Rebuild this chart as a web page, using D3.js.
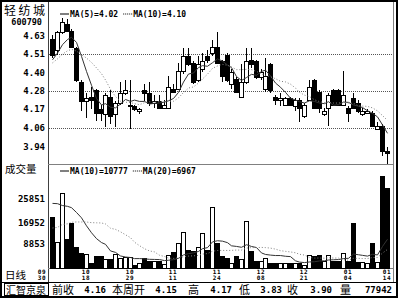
<!DOCTYPE html>
<html>
<head>
<meta charset="utf-8">
<script src="https://cdn.jsdelivr.net/npm/d3@7"></script>
<style>
  body { margin: 0; background: #fff; }
  svg { display: block; }
</style>
</head>
<body>
<div id="viz"></div>
<script>
const width = 400;
const height = 299;

// Daily bars, 600790 轻纺城, 2004-09-30 .. 2005-01-14
const dates = ['09/30',
  '10/08','10/11','10/12','10/13','10/14','10/15','10/18','10/19','10/20','10/21','10/22',
  '10/25','10/26','10/27','10/28','10/29',
  '11/01','11/02','11/03','11/04','11/05','11/08','11/09','11/10','11/11','11/12',
  '11/15','11/16','11/17','11/18','11/19','11/22','11/23','11/24','11/25','11/26','11/29','11/30',
  '12/02','12/03','12/06','12/07','12/08','12/09','12/10','12/13','12/14','12/15','12/16','12/17',
  '12/20','12/21','12/22','12/23','12/24','12/27','12/28','12/29','12/30','12/31',
  '01/04','01/05','01/06','01/07','01/10','01/11','01/12','01/13','01/14'];
const opens  = [4.61,4.54,4.65,4.70,4.66,4.55,4.34,4.22,4.25,4.29,4.17,4.14,4.25,4.14,4.21,4.27,4.19,4.19,4.16,4.29,
                4.27,4.21,4.22,4.18,4.18,4.30,4.30,4.41,4.50,4.46,4.35,4.42,4.50,4.52,4.56,4.47,4.51,4.33,4.36,4.25,
                4.34,4.48,4.47,4.37,4.30,4.45,4.25,4.23,4.20,4.24,4.19,4.23,4.13,4.23,4.35,4.28,4.14,4.18,4.29,4.29,
                4.20,4.18,4.24,4.21,4.14,4.15,4.15,4.05,4.07,3.91];
const highs  = [4.63,4.66,4.74,4.73,4.67,4.56,4.35,4.27,4.31,4.30,4.20,4.27,4.29,4.22,4.34,4.35,4.35,4.20,4.18,4.33,
                4.34,4.26,4.26,4.23,4.38,4.33,4.46,4.55,4.55,4.47,4.50,4.52,4.54,4.60,4.65,4.48,4.52,4.42,4.37,4.45,
                4.55,4.55,4.48,4.42,4.49,4.46,4.26,4.27,4.25,4.25,4.24,4.24,4.21,4.35,4.36,4.29,4.18,4.27,4.30,4.30,
                4.41,4.19,4.27,4.23,4.18,4.17,4.16,4.09,4.08,3.94];
const lows   = [4.49,4.51,4.64,4.65,4.55,4.34,4.16,4.12,4.17,4.10,4.10,4.06,4.08,4.06,4.20,4.26,4.05,4.16,4.14,4.22,
                4.19,4.18,4.17,4.17,4.17,4.27,4.29,4.39,4.44,4.33,4.34,4.40,4.46,4.50,4.45,4.34,4.34,4.30,4.27,4.24,
                4.33,4.43,4.36,4.35,4.28,4.27,4.20,4.19,4.19,4.19,4.16,4.09,4.12,4.22,4.17,4.15,4.13,4.07,4.19,4.19,
                4.19,4.09,4.17,4.15,4.13,4.14,4.06,4.04,3.88,3.83];
const closes = [4.51,4.65,4.71,4.66,4.56,4.35,4.22,4.24,4.23,4.15,4.15,4.26,4.13,4.21,4.27,4.29,4.20,4.17,4.17,4.27,
                4.21,4.22,4.18,4.20,4.31,4.28,4.41,4.50,4.45,4.34,4.45,4.47,4.48,4.56,4.46,4.38,4.35,4.40,4.28,4.34,
                4.47,4.45,4.37,4.40,4.38,4.29,4.23,4.24,4.24,4.20,4.23,4.18,4.20,4.31,4.18,4.18,4.16,4.26,4.20,4.20,
                4.26,4.15,4.18,4.16,4.16,4.16,4.07,4.07,3.91,3.90];
const volumes = [19200,9850,28000,10740,17000,7990,5740,5250,1750,4500,4500,3250,3250,5250,3620,4000,4000,1120,1750,3620,
                 2740,2740,2740,1500,4870,6120,9240,13600,6740,6490,8000,13000,6740,23000,9240,4500,3620,1750,4500,3250,
                 17600,6490,2740,2740,3620,2000,2000,1750,1750,2000,1750,1750,1000,5000,4500,4870,2500,4870,2590,2740,
                 5500,2740,17000,2288,2300,2000,9374,2300,34468,29800];

// closes / volumes of the sessions just before the window (feed the moving averages)
const priorCloses = [4.40,4.42,4.45,4.47,4.46,4.44,4.45,4.50,4.49];
const priorVolumes = [5200,5800,6400,5100,6000,5900,5600,6300,5700,5800,
                      10850,35000,13740,22000,26000,25740,35250,27750,26500];

const priceTicks = [4.629, 4.514, 4.399, 4.285, 4.170, 4.055, 3.940];
const priceTickLabels = ['4.63','4.51','4.40','4.28','4.17','4.06','3.94'];
const volumeTicks = [8853, 16952, 25851];
const dateTicks = ['09/30','10/18','10/29','11/11','11/24','12/08','12/21','01/04','01/14'];

const infoLabels = ['前收','本周开','高','低','收','量'];
const infoValues = ['4.16','4.15','4.17','3.83','3.90','77942'];

const monoFont = '"DejaVu Sans Mono", monospace';
const cjkFont = '"Noto Sans CJK SC", sans-serif';

const svg = d3.select('#viz')
  .append('svg')
    .attr('width', width)
    .attr('height', height)
    .attr('viewBox', [0, 0, width, height]);

svg.append('rect').attr('width', width).attr('height', height).attr('fill', '#fff');

// Scales
const xScale = d3.scaleBand()
  .domain(dates)
  .range([49.575, 389.075]);
const cx = d => Math.round(xScale(d) + xScale.bandwidth() / 2);

const yPrice = d3.scaleLinear()
  .domain([3.8254, 4.7438])
  .range([165, 17]);
const yVol = d3.scaleLinear()
  .domain([0, 34468])
  .range([268, 176]);

// moving averages
const movingAvg = (values, prior, n) => {
  const all = prior.concat(values);
  return values.map((v, i) => d3.mean(all.slice(i + prior.length - n + 1, i + prior.length + 1)));
};
const ma5 = movingAvg(closes, priorCloses, 5);
const ma10 = movingAvg(closes, priorCloses, 10);
const vma10 = movingAvg(volumes, priorVolumes, 10);
const vma20 = movingAvg(volumes, priorVolumes, 20);

const bars = dates.map((d, i) => ({
  date: d, open: opens[i], high: highs[i], low: lows[i], close: closes[i], volume: volumes[i],
  down: closes[i] < opens[i]
}));

// Frame
const frame = svg.append('g').attr('class', 'frame').attr('fill', 'none');
frame.append('rect').attr('x', 1).attr('y', 1).attr('width', 396).attr('height', 296)
  .attr('stroke', '#000').attr('stroke-width', 2);
frame.append('line').attr('x1', 48.5).attr('x2', 48.5).attr('y1', 2).attr('y2', 282)
  .attr('stroke', '#404040');
frame.append('line').attr('x1', 393.5).attr('x2', 393.5).attr('y1', 2).attr('y2', 282)
  .attr('stroke', '#808080');
frame.append('line').attr('x1', 48).attr('x2', 394).attr('y1', 164.5).attr('y2', 164.5)
  .attr('stroke', '#808080');
frame.append('line').attr('x1', 48).attr('x2', 394).attr('y1', 268.5).attr('y2', 268.5)
  .attr('stroke', '#808080');
frame.append('line').attr('x1', 2).attr('x2', 396).attr('y1', 282.5).attr('y2', 282.5)
  .attr('stroke', '#000');

// Price gridlines (every other tick)
svg.append('g')
  .attr('class', 'grid')
  .selectAll('line')
  .data(priceTicks.filter((t, i) => i % 2 === 1))
  .join('line')
    .attr('x1', 49).attr('x2', 393)
    .attr('y1', d => Math.round(yPrice(d)) + 0.5)
    .attr('y2', d => Math.round(yPrice(d)) + 0.5)
    .attr('stroke', '#555')
    .attr('stroke-dasharray', '1,1');

// Left labels
svg.append('text').attr('x', 4).attr('y', 14.5)
  .attr('font-family', cjkFont).attr('font-size', 12).attr('letter-spacing', 2.5)
  .attr('fill', '#000').text('轻纺城');
svg.append('text').attr('x', 42).attr('y', 24.5).attr('text-anchor', 'end')
  .attr('font-family', monoFont).attr('font-size', 8.5).attr('font-weight', 700)
  .text('600790');

svg.append('g')
  .attr('class', 'price-ticks')
  .selectAll('text')
  .data(priceTicks)
  .join('text')
    .attr('x', 45)
    .attr('y', d => yPrice(d) + 3)
    .attr('text-anchor', 'end')
    .attr('font-family', monoFont).attr('font-size', 9).attr('font-weight', 700)
    .text((d, i) => priceTickLabels[i]);

svg.append('text').attr('x', 5).attr('y', 173)
  .attr('font-family', cjkFont).attr('font-size', 10.5).text('成交量');

svg.append('g')
  .attr('class', 'volume-ticks')
  .selectAll('text')
  .data(volumeTicks)
  .join('text')
    .attr('x', 45)
    .attr('y', d => yVol(d) + 3)
    .attr('text-anchor', 'end')
    .attr('font-family', monoFont).attr('font-size', 9).attr('font-weight', 700)
    .text(d => d);

svg.append('text').attr('x', 5).attr('y', 279)
  .attr('font-family', cjkFont).attr('font-size', 10.5).text('日线');

// Date labels (two lines: month / day)
const dateGroup = svg.append('g')
  .attr('class', 'date-ticks')
  .attr('font-family', monoFont).attr('font-size', 6).attr('font-weight', 700)
  .attr('letter-spacing', 0.6)
  .attr('text-anchor', 'middle');
dateGroup.selectAll('text.m')
  .data(dateTicks)
  .join('text').attr('class', 'm')
    .attr('x', (d, i) => cx(d) - (i === 0 ? 10 : 0))
    .attr('y', 273.5)
    .text(d => d.slice(0, 2));
dateGroup.selectAll('text.d')
  .data(dateTicks)
  .join('text').attr('class', 'd')
    .attr('x', (d, i) => cx(d) - (i === 0 ? 10 : 0))
    .attr('y', 279.5)
    .text(d => d.slice(3));

// MA legends
const legend = (y, items) => {
  const g = svg.append('g').attr('font-family', monoFont).attr('font-size', 8).attr('font-weight', 700);
  let xPos = 60;
  items.forEach((it, k) => {
    g.append('line')
      .attr('x1', xPos).attr('x2', xPos + 9)
      .attr('y1', y - 2.5).attr('y2', y - 2.5)
      .attr('stroke', '#000')
      .attr('stroke-dasharray', k === 0 ? null : '1,1');
    g.append('text').attr('x', xPos + 10).attr('y', y).text(it);
    xPos += 10 + it.length * 4.82 + 5;
  });
};
legend(16.5, [`MA(5)=${ma5[ma5.length - 1].toFixed(2)}`, `MA(10)=${ma10[ma10.length - 1].toFixed(2)}`]);
legend(173.5, [`MA(10)=${Math.round(vma10[vma10.length - 1])}`, `MA(20)=${Math.round(vma20[vma20.length - 1])}`]);

// Candles
const candles = svg.append('g').attr('class', 'candles');
candles.selectAll('line')
  .data(bars)
  .join('line')
    .attr('x1', d => cx(d.date) + 0.5).attr('x2', d => cx(d.date) + 0.5)
    .attr('y1', d => Math.round(yPrice(d.high)))
    .attr('y2', d => Math.round(yPrice(d.low)))
    .attr('stroke', '#000');
candles.selectAll('rect')
  .data(bars)
  .join('rect')
    .attr('x', d => cx(d.date) - 1.5)
    .attr('width', 4)
    .attr('y', d => Math.round(yPrice(Math.max(d.open, d.close))) + 0.5)
    .attr('height', d => Math.max(1, Math.round(yPrice(Math.min(d.open, d.close))) - Math.round(yPrice(Math.max(d.open, d.close)))))
    .attr('fill', d => d.down ? '#000' : '#fff')
    .attr('stroke', '#000');

// Volume bars
svg.append('g')
  .attr('class', 'volume-bars')
  .selectAll('rect')
  .data(bars)
  .join('rect')
    .attr('x', d => cx(d.date) - 1.5)
    .attr('width', 4)
    .attr('y', d => Math.round(yVol(d.volume)) + 0.5)
    .attr('height', d => 268 - Math.round(yVol(d.volume)))
    .attr('fill', d => d.down ? '#000' : '#fff')
    .attr('stroke', '#000');

// MA lines
const priceLine = d3.line().x((d, i) => cx(dates[i]) + 0.5).y(d => yPrice(d));
svg.append('path').attr('d', priceLine(ma5))
  .attr('fill', 'none').attr('stroke', '#333').attr('stroke-width', 1);
svg.append('path').attr('d', priceLine(ma10))
  .attr('fill', 'none').attr('stroke', '#808080').attr('stroke-width', 1).attr('stroke-dasharray', '1,2');

const volLine = d3.line().x((d, i) => cx(dates[i]) + 0.5).y(d => yVol(d));
svg.append('path').attr('d', volLine(vma10))
  .attr('fill', 'none').attr('stroke', '#333').attr('stroke-width', 1);
svg.append('path').attr('d', volLine(vma20))
  .attr('fill', 'none').attr('stroke', '#808080').attr('stroke-width', 1).attr('stroke-dasharray', '1,2');

// Info bar
svg.append('rect').attr('x', 4.5).attr('y', 283.5).attr('width', 44).attr('height', 12)
  .attr('fill', 'none').attr('stroke', '#000');
svg.append('text').attr('x', 6).attr('y', 294)
  .attr('font-family', cjkFont).attr('font-size', 10).text('汇智京泉');

const infoLabelX = [52, 112, 188, 239, 287, 340];
const infoValueX = [106, 177, 232, 282, 332, 392];
svg.append('g').selectAll('text')
  .data(infoLabels)
  .join('text')
    .attr('x', (d, i) => infoLabelX[i])
    .attr('y', 294)
    .attr('font-family', cjkFont).attr('font-size', 11)
    .text(d => d);
svg.append('g').selectAll('text')
  .data(infoValues)
  .join('text')
    .attr('x', (d, i) => infoValueX[i])
    .attr('y', 293)
    .attr('text-anchor', 'end')
    .attr('font-family', monoFont).attr('font-size', 9).attr('font-weight', 700)
    .text(d => d);
</script>
</body>
</html>
